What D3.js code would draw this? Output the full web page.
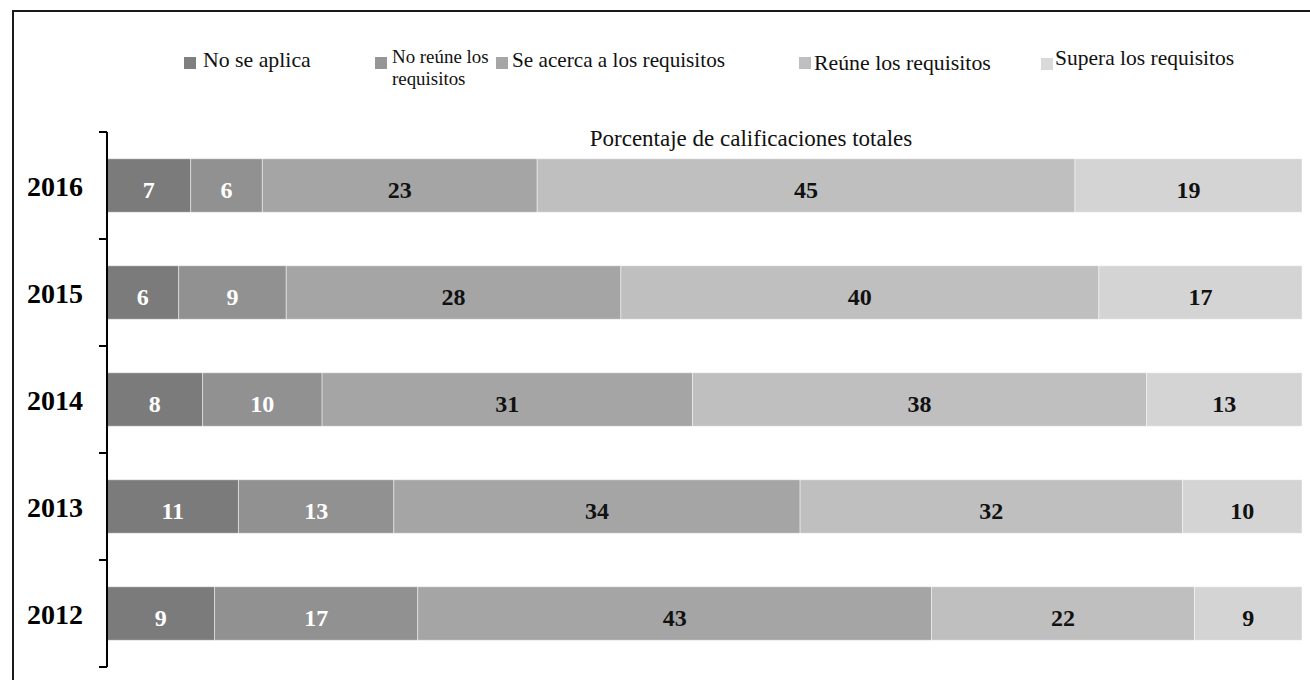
<!DOCTYPE html>
<html>
<head>
<meta charset="utf-8">
<script src="https://cdn.jsdelivr.net/npm/d3@7"></script>
<style>
  html, body { margin: 0; padding: 0; background: #fff; }
  svg { display: block; }
  text { font-family: "Liberation Serif", "Times New Roman", serif; }
</style>
</head>
<body>
<svg id="chart" width="1310" height="680"></svg>
<script>
// Rating distribution per year (percent of total ratings)
const years = ["2016", "2015", "2014", "2013", "2012"];
const seriesNames = ["No se aplica", "No reúne los requisitos", "Se acerca a los requisitos", "Reúne los requisitos", "Supera los requisitos"];
const noSeAplica   = [7, 6, 8, 11, 9];
const noReune      = [6, 9, 10, 13, 17];
const seAcerca     = [23, 28, 31, 34, 43];
const reune        = [45, 40, 38, 32, 22];
const supera       = [19, 17, 13, 10, 9];
const axisTitle = "Porcentaje de calificaciones totales";

const seriesValues = [noSeAplica, noReune, seAcerca, reune, supera];
const fills = ["#7b7b7b", "#919191", "#a5a5a5", "#bfbfbf", "#d4d4d4"];
const labelColors = ["#ffffff", "#ffffff", "#111111", "#111111", "#111111"];

const svg = d3.select("#chart");

// Outer frame (top and left edges)
svg.append("path")
  .attr("d", "M13,680 V11 H1310")
  .attr("fill", "none")
  .attr("stroke", "#1a1a1a")
  .attr("stroke-width", 2);

// Scales
const x = d3.scaleLinear().domain([0, 100]).range([107, 1302]);
const y = d3.scaleBand().domain(years).range([132, 667]).paddingInner(0.5).paddingOuter(0.25);

// Stack the series
const rows = years.map((yr, i) => {
  const r = { year: yr };
  seriesNames.forEach((s, k) => { r[s] = seriesValues[k][i]; });
  return r;
});
const stacked = d3.stack().keys(seriesNames)(rows);

const groups = svg.append("g").selectAll("g")
  .data(stacked)
  .join("g");

groups.selectAll("rect")
  .data((d, k) => d.map(p => ({ p, k })))
  .join("rect")
  .attr("x", d => x(d.p[0]))
  .attr("y", d => y(d.p.data.year))
  .attr("width", d => x(d.p[1]) - x(d.p[0]))
  .attr("height", y.bandwidth())
  .attr("fill", d => fills[d.k])
  .attr("stroke", "rgba(255,255,255,0.45)")
  .attr("stroke-width", 1);

groups.selectAll("text")
  .data((d, k) => d.map(p => ({ p, k })))
  .join("text")
  .attr("x", d => (x(d.p[0]) + x(d.p[1])) / 2)
  .attr("y", d => y(d.p.data.year) + y.bandwidth() / 2 + 12)
  .attr("text-anchor", "middle")
  .attr("font-size", 24)
  .attr("font-weight", "bold")
  .attr("fill", d => labelColors[d.k])
  .text(d => d.p[1] - d.p[0]);

// Category axis with ticks on band boundaries
const step = y.step();
const bounds = years.map(yr => y(yr) - step * 0.25).concat([y(years[years.length - 1]) + y.bandwidth() + step * 0.25]);
const axisG = svg.append("g");
axisG.append("line")
  .attr("x1", x(0)).attr("x2", x(0))
  .attr("y1", bounds[0]).attr("y2", bounds[bounds.length - 1])
  .attr("stroke", "#000").attr("stroke-width", 2);
axisG.selectAll("line.tick")
  .data(bounds)
  .join("line")
  .attr("class", "tick")
  .attr("x1", x(0) - 8).attr("x2", x(0))
  .attr("y1", d => d).attr("y2", d => d)
  .attr("stroke", "#000").attr("stroke-width", 2);
axisG.selectAll("text")
  .data(years)
  .join("text")
  .attr("x", x(0) - 24)
  .attr("y", d => y(d) + y.bandwidth() / 2 + 10)
  .attr("text-anchor", "end")
  .attr("font-size", 28)
  .attr("font-weight", "bold")
  .attr("fill", "#000")
  .text(d => d);

// Axis title
svg.append("text")
  .attr("x", 751)
  .attr("y", 146)
  .attr("text-anchor", "middle")
  .attr("font-size", 23)
  .attr("fill", "#111")
  .text(axisTitle);

// Legend
const legendItems = [
  { sx: 184, sy: 57, tx: 203, ty: 67, lines: ["No se aplica"], size: 21.8 },
  { sx: 375, sy: 57, tx: 392, ty: 63, lines: ["No reúne los", "requisitos"], size: 18.9 },
  { sx: 496, sy: 57, tx: 512, ty: 67, lines: ["Se acerca a los requisitos"], size: 21.2 },
  { sx: 799, sy: 57, tx: 814, ty: 70, lines: ["Reúne los requisitos"], size: 21.8 },
  { sx: 1041, sy: 58, tx: 1055, ty: 65, lines: ["Supera los requisitos"], size: 21.5 }
];
const legendFills = ["#7f7f7f", "#969696", "#a6a6a6", "#bfbfbf", "#d9d9d9"];
const leg = svg.append("g").selectAll("g")
  .data(legendItems)
  .join("g");
leg.append("rect")
  .attr("x", d => d.sx).attr("y", d => d.sy)
  .attr("width", 12).attr("height", 12)
  .attr("fill", (d, i) => legendFills[i]);
leg.append("text")
  .attr("x", d => d.tx)
  .attr("y", d => d.ty)
  .attr("font-size", d => d.size)
  .attr("fill", "#111")
  .selectAll("tspan")
  .data(d => d.lines.map((t, j) => ({ t, j, tx: d.tx })))
  .join("tspan")
  .attr("x", d => d.tx)
  .attr("dy", d => d.j === 0 ? 0 : 22)
  .text(d => d.t);
</script>
</body>
</html>
